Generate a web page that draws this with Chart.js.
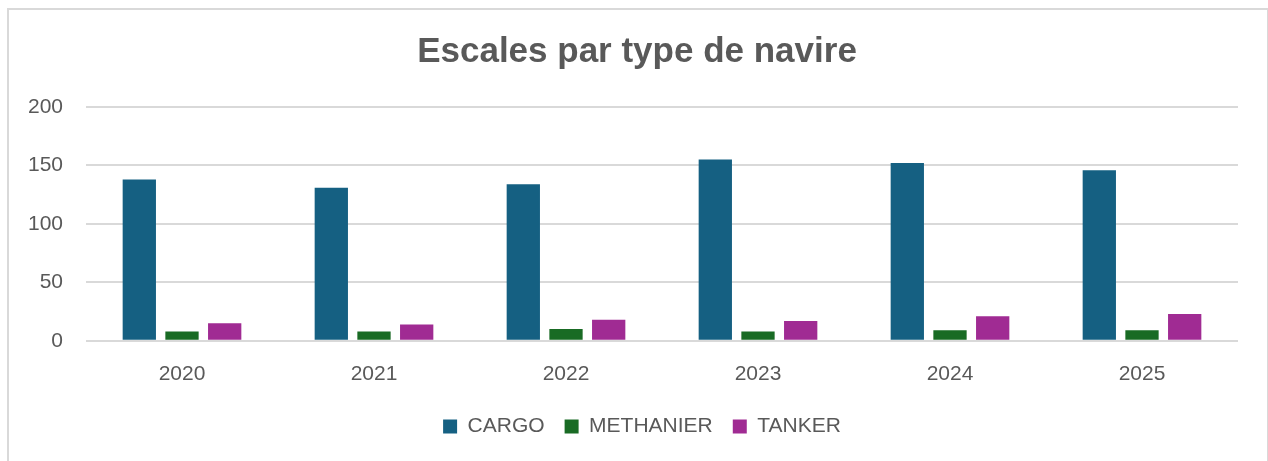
<!DOCTYPE html>
<html>
<head>
<meta charset="utf-8">
<script src="https://cdn.jsdelivr.net/npm/chart.js@4"></script>
<style>
  html, body { margin: 0; padding: 0; background: #fff; }
  #frame {
    position: absolute; left: 7px; top: 8px;
    width: 1258px; height: 480px;
    border: 2px solid #d9d9d9;
  }
  #wrap { position: absolute; left: 0; top: 0; width: 1268px; height: 461px; }
</style>
</head>
<body>
<div id="frame"></div>
<div id="wrap"><canvas id="chart"></canvas></div>
<script>
// donnees
const years = ["2020", "2021", "2022", "2023", "2024", "2025"];
const cargo = [138, 131, 134, 155, 152, 146];
const methanier = [8, 8, 10, 8, 9, 9];
const tanker = [15, 14, 18, 17, 21, 23];
const yTicks = [0, 50, 100, 150, 200];

const textColor = "#595959";
const fontFamily = "'Liberation Sans', Arial, sans-serif";

const mkSet = (label, data, color) => ({
  label: label,
  data: data,
  backgroundColor: color,
  borderWidth: 0,
  categoryPercentage: 0.667,
  barPercentage: 0.78,
});

// recentre titre et legende comme dans l'original
const shiftBlocks = {
  id: "shiftBlocks",
  afterLayout(chart) {
    chart.legend.left += 23;
    chart.legend.right += 23;
    chart.titleBlock.left += 18;
    chart.titleBlock.right += 18;
  },
};

new Chart(document.getElementById("chart"), {
  type: "bar",
  data: {
    labels: years,
    datasets: [
      mkSet("CARGO", cargo, "#156082"),
      mkSet("METHANIER", methanier, "#196b24"),
      mkSet("TANKER", tanker, "#a02b93"),
    ],
  },
  plugins: [shiftBlocks],
  options: {
    responsive: true,
    maintainAspectRatio: false,
    animation: false,
    layout: { padding: { left: 0, right: 30, top: 0, bottom: 14 } },
    plugins: {
      title: {
        display: true,
        text: "Escales par type de navire",
        color: textColor,
        font: { family: fontFamily, size: 35, weight: "bold" },
        padding: { top: 31, bottom: 34 },
      },
      legend: {
        position: "bottom",
        labels: {
          color: textColor,
          font: { family: fontFamily, size: 21 },
          boxWidth: 14,
          boxHeight: 14,
          padding: 20,
        },
      },
      tooltip: { enabled: false },
    },
    scales: {
      x: {
        afterFit: (s) => { s.height = s.height - 4; },
        grid: { display: false },
        border: { display: false },
        ticks: {
          color: textColor,
          font: { family: fontFamily, size: 21 },
          padding: 13,
        },
      },
      y: {
        min: 0,
        max: 200,
        afterFit: (s) => { s.width = 86; },
        afterBuildTicks: (s) => { s.ticks = yTicks.map((v) => ({ value: v })); },
        grid: { color: "#d9d9d9", lineWidth: 2, drawTicks: false },
        border: { display: false },
        ticks: {
          color: textColor,
          font: { family: fontFamily, size: 21 },
          padding: 23,
        },
      },
    },
  },
});
</script>
</body>
</html>
